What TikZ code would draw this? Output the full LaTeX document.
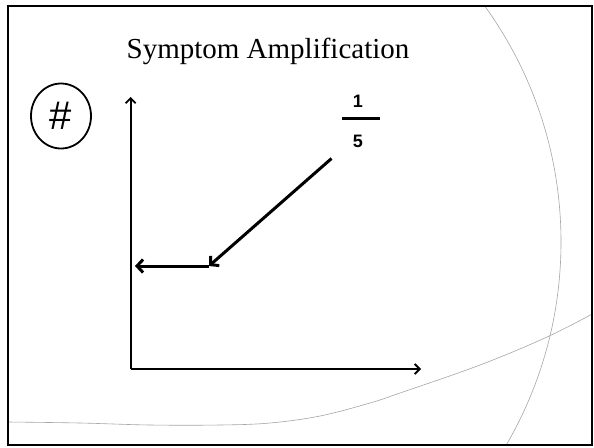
\documentclass[tikz,border=0pt]{standalone}
\usepackage{fontspec}
\setmainfont{Liberation Serif}
\newfontfamily\arialfont{Liberation Sans}
\usetikzlibrary{arrows.meta,shapes.geometric}
\tikzset{
  axisline/.style={line width=1.8pt,-{Straight Barb[length=5pt,width=10pt,line width=1.8pt]}},
  thickarrow/.style={line width=3pt,-{Straight Barb[length=6pt,width=13pt,line width=3pt]}},
  bgcurve/.style={draw=black!35,line width=0.6pt},
  framebox/.style={draw=black,line width=2.5pt},
  hashnode/.style={draw,ellipse,line width=1.8pt,minimum width=60pt,minimum height=65pt,inner sep=0pt,font=\arialfont\fontsize{40}{40}\selectfont},
  fracnum/.style={font=\arialfont\bfseries\fontsize{18}{18}\selectfont,inner sep=0pt,anchor=base},
  titletext/.style={font=\fontsize{29}{29}\selectfont,inner sep=0pt,anchor=base}
}
\begin{document}
\begin{tikzpicture}[x=1pt,y=-1pt]
\useasboundingbox (0,0) rectangle (594,447);
\fill[white] (0,0) rectangle (594,447);
\begin{scope}
  \clip (8,6) rectangle (592,445);
  \draw[bgcurve] (158,242) circle[radius=403];
  \draw[bgcurve] plot[smooth,tension=0.6] coordinates {(8,422) (80,423) (150,425) (220,425) (270,423) (320,416) (370,403) (400,393) (480,365) (547,337) (596,312)};
\end{scope}
\draw[framebox] (8,6) rectangle (592,445);
\node[titletext] (title) at (268,58) {Symptom Amplification};
\node[hashnode] (hash) at (61,116) {\#};
\node[fracnum] (one) at (358,107) {1};
\node[fracnum] (five) at (358,147) {5};
\coordinate (barL) at (342,118.7);
\coordinate (barR) at (380,118.7);
\draw[line width=3pt] (barL) -- (barR);
\coordinate (origin) at (130.7,369);
\coordinate (ytop) at (130.7,97);
\coordinate (xend) at (421,369);
\draw[axisline] (origin) -- (ytop);
\draw[axisline] (origin) -- (xend);
\coordinate (dstart) at (331.5,158.5);
\coordinate (corner) at (209,266);
\coordinate (htip) at (135,266);
\draw[thickarrow,line cap=butt] (dstart) -- (corner);
\draw[thickarrow] (corner) -- (htip);
\end{tikzpicture}
\end{document}
